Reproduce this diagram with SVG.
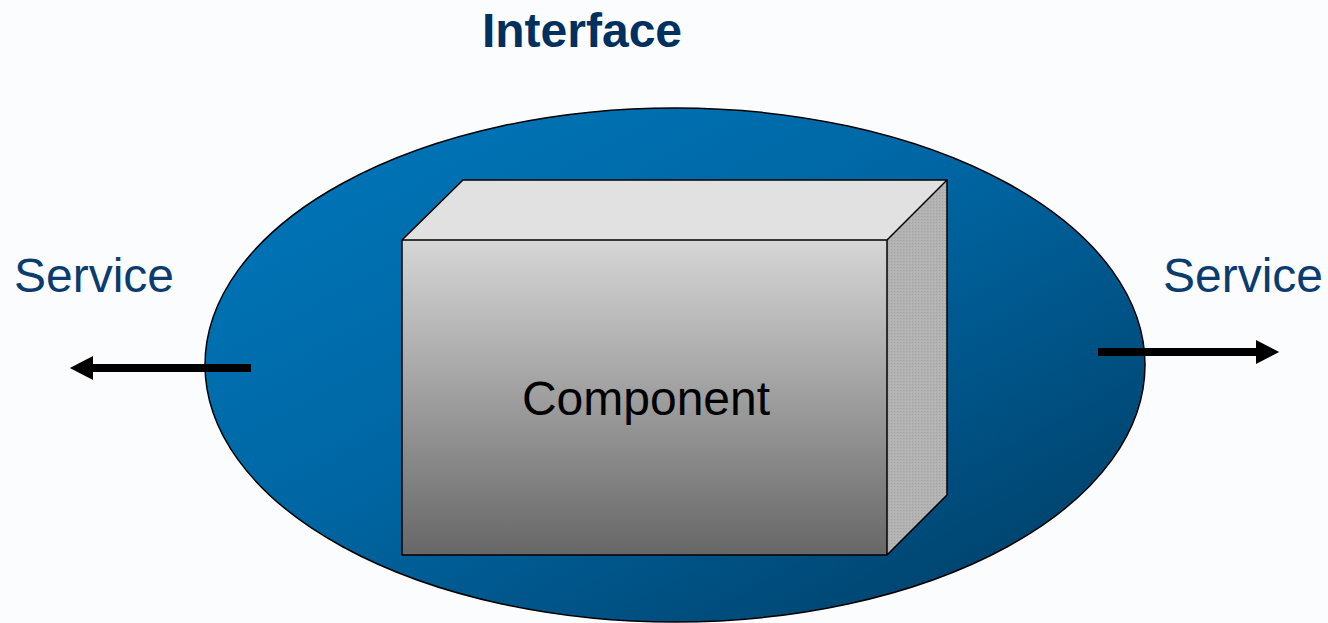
<svg xmlns="http://www.w3.org/2000/svg" width="1328" height="623" viewBox="0 0 1328 623">
  <style>
    .label { font-family: "Liberation Sans", Arial, sans-serif; font-size: 48px; }
    .svc { fill: #0b3c6e; }
    .edge { fill: none; stroke: #000; stroke-width: 1.5; stroke-linejoin: miter; }
    .wire { stroke: #000; stroke-width: 8; fill: none; }
  </style>
  <defs>
    <linearGradient id="blueFill" x1="0" y1="0" x2="1" y2="1">
      <stop offset="0" stop-color="#0078bd"/>
      <stop offset="0.45" stop-color="#0066a3"/>
      <stop offset="1" stop-color="#003a60"/>
    </linearGradient>
    <linearGradient id="frontFill" x1="0" y1="0" x2="0" y2="1">
      <stop offset="0" stop-color="#d6d6d6"/>
      <stop offset="1" stop-color="#676767"/>
    </linearGradient>
    <pattern id="grain" width="3" height="3" patternUnits="userSpaceOnUse">
      <rect width="3" height="3" fill="#b2b2b2"/>
      <rect width="1" height="1" fill="#a4a4a4"/>
      <rect x="2" y="2" width="1" height="1" fill="#bcbcbc"/>
    </pattern>
    <!-- filled triangle head; its base sits on the line end -->
    <marker id="head" markerWidth="3" markerHeight="3" refX="0" refY="1.5" orient="auto" markerUnits="strokeWidth" overflow="visible">
      <path d="M0,0 L2.9,1.5 L0,3 Z" fill="#000"/>
    </marker>
  </defs>

  <rect width="1328" height="623" fill="#fbfcfe"/>

  <text class="label" x="582" y="47" text-anchor="middle" font-weight="bold" fill="#00305f">Interface</text>

  <g id="interface">
    <ellipse cx="675" cy="365" rx="470" ry="257" fill="url(#blueFill)" stroke="#000" stroke-width="1.5"/>
  </g>

  <g id="connectors">
    <line class="wire" x1="251" y1="368" x2="93" y2="368" marker-end="url(#head)"/>
    <line class="wire" x1="1098" y1="352" x2="1256" y2="352" marker-end="url(#head)"/>
  </g>

  <g id="component">
    <polygon points="402,240 463,180 947,180 887,240" fill="#e1e1e1"/>
    <polygon points="887,240 947,180 947,495 887,555" fill="url(#grain)"/>
    <rect x="402" y="240" width="485" height="315" fill="url(#frontFill)"/>
    <path class="edge" d="M402,240 L463,180 L947,180 L947,495 L887,555 L402,555 Z M402,240 L887,240 L947,180 M887,240 L887,555"/>
    <text class="label" x="646" y="415" text-anchor="middle" fill="#000">Component</text>
  </g>

  <g id="service-left">
    <text class="label svc" x="14" y="292">Service</text>
  </g>
  <g id="service-right">
    <text class="label svc" x="1163" y="292">Service</text>
  </g>
</svg>
